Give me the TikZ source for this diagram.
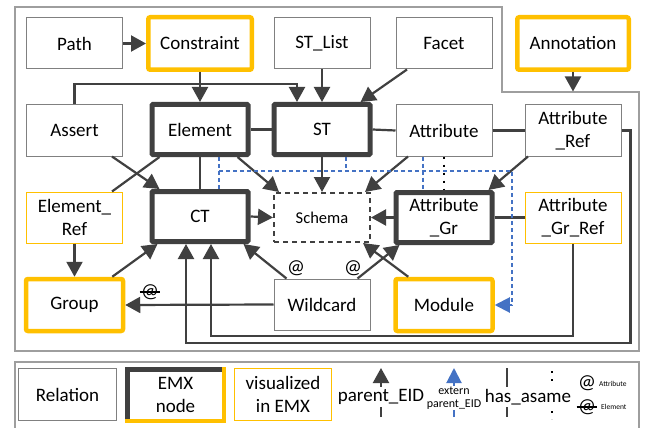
\documentclass[tikz,border=0pt]{standalone}
\usepackage{fontspec}
\setmainfont{Carlito}
\usetikzlibrary{arrows.meta}
\definecolor{emx dark}{HTML}{404040}
\definecolor{emx yellow}{HTML}{FFC000}
\definecolor{extern blue}{HTML}{4472C4}
\colorlet{relation edge}{black!50}
\colorlet{frame edge}{black!38}
\def\diagramframe{(15,7) -- (502,7) -- (502,92) -- (639,92) -- (639,351) -- (15,351) -- cycle}
\def\legendframe{(15,428) -- (15,362) -- (639,362) -- (639,428)}
\newcommand\atelem{\setbox0\hbox{@}\rlap{\hbox to\wd0{\hss\rule[0.22em]{1.15\wd0}{0.07em}\hss}}\box0}
\tikzset{every node/.style={font=\fontsize{19}{23}\selectfont, align=center, inner sep=0pt},
	relation/.style={draw=relation edge, line width=1pt, minimum width=96pt, minimum height=51pt},
	emxnode/.style={draw=emx dark, line width=5pt, rounded corners=1pt, minimum width=96pt, minimum height=50pt},
	visual/.style={draw=emx yellow, line width=1pt, minimum width=96pt, minimum height=51pt},
	visualemx/.style={draw=emx yellow, line width=4.5pt, rounded corners=2pt, minimum width=97pt, minimum height=52pt},
	schemabox/.style={draw=emx dark, line width=2pt, dash pattern=on 5pt off 4pt, minimum width=96pt, minimum height=49pt, font=\fontsize{16.5}{20}\selectfont},
	parent/.style={draw=emx dark, line width=2.2pt, -{Triangle[length=15pt,width=16pt]}},
	asame/.style={draw=emx dark, line width=2.2pt},
	dotrel/.style={draw=black, line width=2pt, dash pattern=on 2pt off 6pt},
	extern/.style={draw=extern blue, line width=2pt, dash pattern=on 4pt off 3pt},
	externarr/.style={extern, -{Triangle[length=15pt,width=15pt]}},
	atlabel/.style={font=\fontsize{20}{22}\selectfont}}

\begin{document}
\begin{tikzpicture}[x=1pt,y=-1pt]
		\useasboundingbox (0,0) rectangle (654,428);
		\draw[frame edge, line width=1.2pt] \diagramframe;
		\draw[frame edge, line width=1.2pt] \legendframe;
		
		\node[relation] (Path) at (74.5,43.5) {Path};
		\node[visualemx, minimum width=103.5pt, minimum height=52.5pt] (Constraint) at (200,43.5) {Constraint};
		\node[relation] (STList) at (322,43.5) {ST\_List};
		\node[relation] (Facet) at (444,43.5) {Facet};
		\node[visualemx, minimum width=111.5pt, minimum height=52.5pt] (Annotation) at (573,43.5) {Annotation};
		
		\node[relation] (Assert) at (74.5,130.5) {Assert};
		\node[emxnode] (Element) at (200,129.5) {Element};
		\node[emxnode] (ST) at (322,129.5) {ST};
		\node[relation] (Attribute) at (444,130.5) {Attribute};
		\node[relation] (AttributeRef) at (573,130.5) {Attribute\\\_Ref};
		
		\node[visual] (ElementRef) at (74.5,217.5) {Element\_\\Ref};
		\node[emxnode] (CT) at (200,216.5) {CT};
		\node[schemabox] (Schema) at (322,217.5) {Schema};
		\node[emxnode] (AttributeGr) at (444,217.5) {Attribute\\\_Gr};
		\node[visual] (AttributeGrRef) at (573,217.5) {Attribute\\\_Gr\_Ref};
		
		\node[visualemx] (Group) at (74.5,305) {Group};
		\node[relation] (Wildcard) at (322,304.5) {Wildcard};
		\node[visualemx] (Module) at (444,305) {Module};
		
		\coordinate (frametop) at (573,91.5);
		\coordinate (busL) at (219,171);
		\coordinate (busR) at (512,171);
		\coordinate (ctA) at ([xshift=-14pt]CT.south);
		\coordinate (ctB) at ([xshift=11pt]CT.south);
		
		% parent_EID
		\draw[parent] (Path.east) -- (Constraint.west);
		\draw[parent] (Constraint.south) -- (Element.north);
		\draw[parent] (Assert.north) -- (Assert.north |- 0,84) -| ([xshift=-25pt]ST.north);
		\draw[parent] (STList.south) -- (ST.north);
		\draw[parent] ([xshift=-37pt]Facet.south) -- ([xshift=-12pt]ST.north east);
		\draw[parent] (Annotation.south) -- (frametop);
		\draw[parent] ([xshift=37.5pt]Assert.south) -- ([xshift=10pt]CT.north west);
		\draw[parent] ([xshift=-13pt]Element.south east) -- ([xshift=6pt]Schema.north west);
		\draw[parent] (ST.south) -- (Schema.north);
		\draw[parent] ([xshift=-36pt]Attribute.south) -- ([xshift=-6pt]Schema.north east);
		\draw[parent] ([xshift=-45pt]AttributeRef.south) -- ([xshift=-6pt]AttributeGr.north east);
		\draw[parent] (CT.east) -- (Schema.west);
		\draw[parent] (AttributeGr.west) -- (Schema.east);
		\draw[parent] (ElementRef.south) -- (Group.north);
		\draw[parent] ([xshift=-13pt]Group.north east) -- ([xshift=8pt]CT.south west);
		\draw[parent] ([xshift=13pt]Wildcard.north west) -- ([xshift=-7pt]CT.south east);
		\draw[parent] ([xshift=-13pt]Wildcard.north east) -- ([xshift=6pt]AttributeGr.south west);
		\draw[parent] ([xshift=15pt]Module.north west) -- ([xshift=-8pt]Schema.south east);
		\draw[parent] (Wildcard.west) -- (Group.east);
		\draw[parent] (AttributeGrRef.south) |- (ctB |- 0,336) -- (ctB);
		\draw[parent] (AttributeRef.east) -- ++(9,0) |- (ctA |- 0,343) -- (ctA);
		
		% has_asame
		\draw[asame] (Element.east) -- (ST.west);
		\draw[asame] (ST.east) -- (Attribute.west);
		\draw[asame] (Attribute.east) -- (AttributeRef.west);
		\draw[asame] ([xshift=10pt]Element.south west) -- ([xshift=-11pt]ElementRef.north east);
		\draw[asame] (Element.south) -- (CT.north);
		\draw[asame] (AttributeGr.east) -- (AttributeGrRef.west);
		\draw[dotrel] (Attribute.south) -- (AttributeGr.north);
		
		% extern parent_EID
		\draw[extern] ([xshift=19pt]Element.south) -- ([xshift=19pt]CT.north);
		\draw[extern] ([xshift=24pt]ST.south) -- ([xshift=24pt]ST.south |- busL);
		\draw[extern] ([xshift=-21pt]Attribute.south) -- ([xshift=-21pt]AttributeGr.north);
		\draw[externarr] (busL) -- (busR) |- (Module.east);
		
		\node[atlabel] (atCT) at (296,268) {@};
		\node[atlabel] (atGr) at (353,268) {@};
		\node[atlabel] (atGroup) at (150,292) {\atelem};
		
		% legend
		\node[relation, minimum width=98pt, minimum height=52pt] (legRelation) at (67.5,394.5) {Relation};
		\node[outer sep=0pt, minimum width=96.5pt, minimum height=51.5pt] (legEmx) at (175.5,395) {EMX\\node};
		\draw[emx dark, line width=4.5pt, line cap=rect] (legEmx.south west) -- (legEmx.north west) -- (legEmx.north east);
		\draw[emx yellow, line width=4.5pt, line cap=rect] (legEmx.north east) -- (legEmx.south east) -- (legEmx.south west);
		\node[visual, minimum width=97pt, minimum height=52pt] (legVisual) at (283,394.5) {visualized\\in EMX};
		
		\draw[parent] (381,417) -- (381,368);
		\draw[extern, solid, -{Triangle[length=15pt,width=15pt]}] (454,417) -- (454,368);
		\draw[asame] (507,368) -- (507,417);
		\draw[dotrel] (552,371) -- (552,419);
		\node[fill=white, inner ysep=2pt] (legParent) at (381,397) {parent\_EID};
		\node[fill=white, inner ysep=1pt, font=\fontsize{12}{13}\selectfont] (legExtern) at (454,398) {extern\\parent\_EID};
		\node[fill=white, inner ysep=2pt] (legAsame) at (528,397) {has\_asame};
		\node[atlabel] (legAtA) at (587,383) {@};
		\node[anchor=west, font=\fontsize{7.5}{9}\selectfont] (legAttr) at (599,384) {Attribute};
		\node[atlabel] (legAtE) at (587,407) {\atelem};
		\node[anchor=west, font=\fontsize{7.5}{9}\selectfont] (legElem) at (601,407) {Element};
		
		\end{tikzpicture}
\end{document}
